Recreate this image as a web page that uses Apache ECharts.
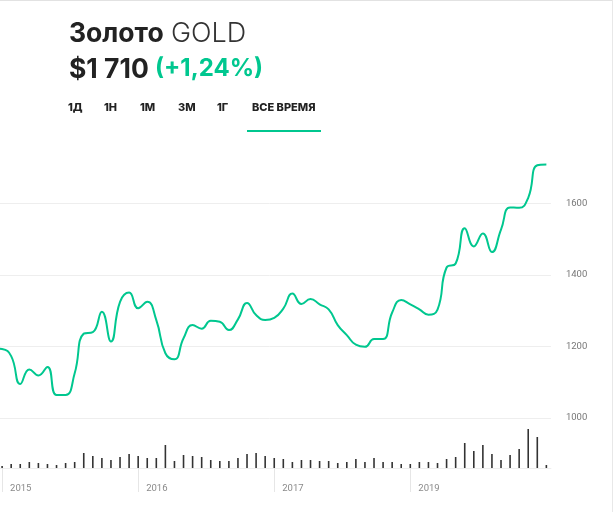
<!DOCTYPE html>
<html>
<head>
<meta charset="utf-8">
<style>
  html, body { margin: 0; padding: 0; background: #fff; }
  #frame { position: relative; width: 613px; height: 512px; overflow: hidden; }
  #chart { position: absolute; left: -13px; top: 0; width: 626px; height: 512px; }
  #edge-top { position: absolute; left: 0; top: 0; width: 613px; height: 1px; background: #e2e2e2; }
  #edge-right { position: absolute; right: 0; top: 0; width: 1px; height: 512px; background: #e8e8e8; }
</style>
<script src="https://cdn.jsdelivr.net/npm/echarts@6/dist/echarts.min.js"></script>
</head>
<body>
<div id="frame">
  <div id="chart"></div>
  <div id="edge-top"></div>
  <div id="edge-right"></div>
</div>
<script>
// the first entry sits just left of the window, the line runs in from there
const periodLabels = ['','2015','','','','','','','','','','','','','','',
  '2016','','','','','','','','','','','','','','',
  '2017','','','','','','','','','','','','','','',
  '2019','','','','','','','','','','','','','','',''];
const prices = [1195,1193,1173,1095,1136,1119,1143,1064,1064,1125,1236,1240,1297,1214,1325,1351,
  1307,1325,1274,1181,1164,1223,1260,1250,1272,1269,1246,1276,1322,1288,1274,
  1280,1306,1348,1319,1333,1318,1304,1260,1232,1205,1199,1221,1221,1295,1330,
  1318,1304,1289,1303,1421,1432,1531,1480,1516,1464,1527,1589,1588,1616,1707,1709];
const volumes = [null,2,4,4,6,5,4,3,5,6,15,12,10,8,11,14,
  12,10,10,23,7,13,12,11,8,7,7,10,14,15,12,
  10,9,6,8,8,7,7,5,6,9,6,10,6,6,4,
  4,6,6,5,9,11,25,17,23,14,8,13,19,39,31,3];
const rangeTabs = ['1Д','1Н','1М','3М','1Г','ВСЕ ВРЕМЯ'];

const GREEN = '#00c78f';
const DARK = '#222';
const FONT = 'Inter, sans-serif';
const SHIFT = 13; // canvas starts left of the window
const tabX = [68, 104, 140, 178, 217, 252];

const chart = echarts.init(document.getElementById('chart'), null, { renderer: 'canvas' });

chart.setOption({
  animation: false,
  textStyle: { fontFamily: FONT },
  grid: [
    { left: 1.5, width: 562.4, top: 132, height: 286 },
    { left: 1.5, width: 562.4, top: 428, height: 40 }
  ],
  xAxis: [
    { type: 'category', gridIndex: 0, data: periodLabels, show: false },
    {
      type: 'category',
      gridIndex: 1,
      data: periodLabels,
      axisLine: { lineStyle: { color: '#eeeeee', width: 1 } },
      axisTick: {
        show: true,
        alignWithLabel: true,
        length: 24,
        interval: i => periodLabels[i] !== '',
        lineStyle: { color: '#e6e6e6' }
      },
      axisLabel: {
        interval: i => periodLabels[i] !== '',
        align: 'left',
        margin: 16,
        padding: [0, 0, 0, 8],
        color: '#8a8a8a',
        fontSize: 9.5,
        fontFamily: 'Roboto, sans-serif'
      }
    }
  ],
  yAxis: [
    {
      type: 'value',
      gridIndex: 0,
      position: 'right',
      min: 1000,
      max: 1800,
      interval: 200,
      axisLine: { show: false },
      axisTick: { show: false },
      splitLine: { showMaxLine: false, lineStyle: { color: '#eeeeee' } },
      axisLabel: {
        showMaxLabel: false,
        formatter: v => String(v),
        margin: 15,
        padding: [4, 0, 0, 0],
        color: '#777',
        fontSize: 9.5,
        fontFamily: 'Roboto, sans-serif'
      }
    },
    { type: 'value', gridIndex: 1, min: 0, max: 40, show: false, splitLine: { show: false } }
  ],
  series: [
    {
      name: 'Цена',
      type: 'line',
      data: prices,
      smooth: 0.5,
      symbol: 'none',
      lineStyle: { color: GREEN, width: 2 }
    },
    {
      name: 'Объём',
      type: 'bar',
      xAxisIndex: 1,
      yAxisIndex: 1,
      data: volumes,
      barWidth: 1.6,
      itemStyle: { color: '#333' }
    }
  ],
  graphic: [
    { type: 'text', left: 69 + SHIFT, top: 21, style: { text: 'Золото', fill: DARK, font: `700 26.5px ${FONT}` } },
    { type: 'text', left: 171 + SHIFT, top: 20, style: { text: 'GOLD', fill: '#333', font: `300 27px ${FONT}` } },
    { type: 'text', left: 69 + SHIFT, top: 57, style: { text: '$1 710', fill: DARK, font: `700 26.5px ${FONT}` } },
    { type: 'text', left: 155 + SHIFT, top: 57, style: { text: '(+1,24%)', fill: GREEN, font: `700 24px ${FONT}` } },
    ...rangeTabs.map((label, i) => ({
      type: 'text',
      left: tabX[i] + SHIFT,
      top: 102,
      style: { text: label, fill: DARK, font: `800 11px ${FONT}` }
    })),
    { type: 'rect', left: 247 + SHIFT, top: 130, shape: { width: 74, height: 2 }, style: { fill: GREEN } }
  ]
});
</script>
</body>
</html>
